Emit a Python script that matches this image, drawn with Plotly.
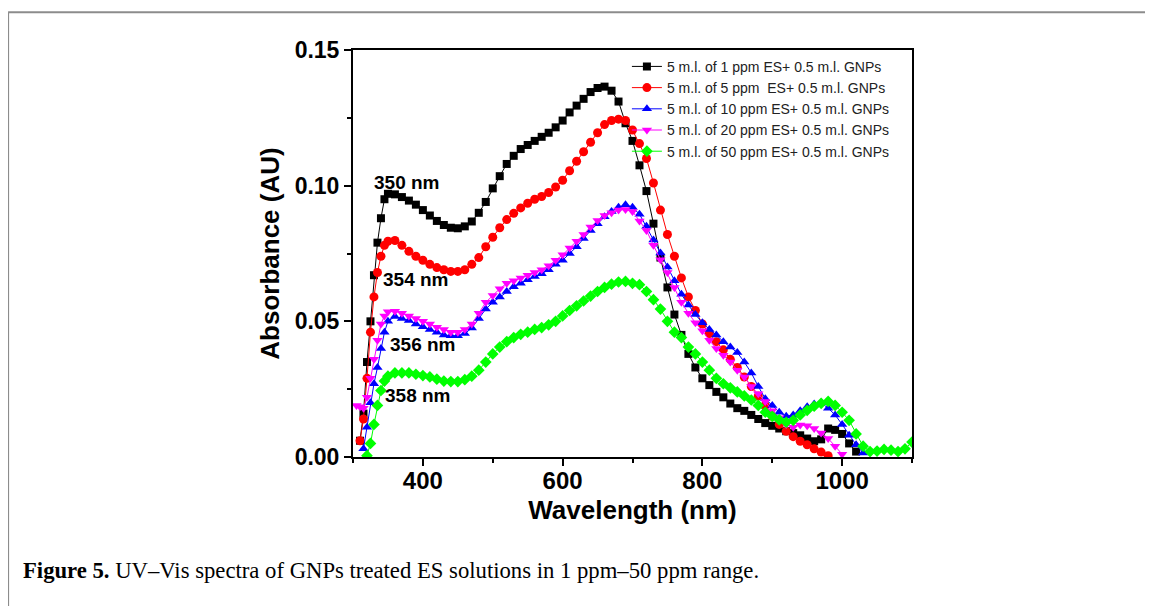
import plotly.graph_objects as go

# wavelength grid (nm): 5 nm steps on the rising edge, 10 nm afterwards
WAVELENGTH = [305, 310, 315, 320, 325, 330, 335, 340, 345, 350,
              360, 370, 380, 390, 400, 410, 420, 430, 440, 450,
              460, 470, 480, 490, 500, 510, 520, 530, 540, 550,
              560, 570, 580, 590, 600, 610, 620, 630, 640, 650,
              660, 670, 680, 690, 700, 710, 720, 730, 740, 750,
              760, 770, 780, 790, 800, 810, 820, 830, 840, 850,
              860, 870, 880, 890, 900, 910, 920, 930, 940, 950,
              960, 970, 980, 990, 1000, 1010, 1020, 1030, 1040, 1050,
              1060, 1070, 1080, 1090, 1100]

ABS_1PPM = [None, 0.006, 0.016, 0.035, 0.050, 0.067, 0.079, 0.088, 0.095, 0.097,
            0.0968, 0.0958, 0.0945, 0.093, 0.091, 0.089, 0.087, 0.0855, 0.0845, 0.0843,
            0.085, 0.0868, 0.090, 0.094, 0.099, 0.1035, 0.108, 0.111, 0.1135, 0.115,
            0.1165, 0.118, 0.1195, 0.1215, 0.124, 0.127, 0.1295, 0.132, 0.1345, 0.136,
            0.1365, 0.135, 0.131, 0.123, 0.1165, 0.1075, 0.098, 0.086, 0.0735, 0.0625,
            0.0525, 0.045, 0.038, 0.033, 0.029, 0.0265, 0.024, 0.022, 0.0197, 0.018,
            0.017, 0.0155, 0.014, 0.0125, 0.0115, 0.0105, 0.0095, 0.0088, 0.008, 0.0068,
            0.0058, 0.0065, 0.0105, 0.010, 0.0085, 0.005, 0.002, None, None, None,
            None, None, None, None, None]

ABS_5PPM = [None, 0.006, 0.014, 0.029, 0.046, 0.059, 0.068, 0.074, 0.078, 0.0795,
            0.0798, 0.078, 0.0758, 0.074, 0.0725, 0.071, 0.0698, 0.069, 0.0684, 0.0684,
            0.069, 0.071, 0.0735, 0.0775, 0.081, 0.0845, 0.0875, 0.0898, 0.0918, 0.0935,
            0.095, 0.096, 0.0975, 0.0995, 0.102, 0.1055, 0.109, 0.1125, 0.116, 0.1195,
            0.1225, 0.124, 0.1245, 0.124, 0.1205, 0.1155, 0.110, 0.101, 0.091, 0.082,
            0.074, 0.066, 0.059, 0.054, 0.049, 0.0455, 0.0425, 0.0395, 0.036, 0.033,
            0.0295, 0.026, 0.0225, 0.019, 0.015, 0.012, 0.0095, 0.0075, 0.0058, 0.0045,
            0.003, 0.0018, 0.0005, None, None, None, None, None, None, None,
            None, None, None, None, None]

ABS_10PPM = [None, None, 0.003, 0.011, 0.020, 0.027, 0.033, 0.040, 0.046, 0.050,
             0.0518, 0.051, 0.0503, 0.049, 0.048, 0.047, 0.046, 0.045, 0.0447, 0.0447,
             0.0455, 0.0475, 0.051, 0.0545, 0.057, 0.059, 0.061, 0.0627, 0.064, 0.0653,
             0.0665, 0.0675, 0.069, 0.071, 0.0725, 0.075, 0.0775, 0.0805, 0.0835, 0.086,
             0.0885, 0.0905, 0.092, 0.093, 0.092, 0.0895, 0.085, 0.080, 0.0752, 0.070,
             0.065, 0.060, 0.056, 0.0525, 0.0495, 0.047, 0.045, 0.0425, 0.0405, 0.0385,
             0.035, 0.031, 0.026, 0.0215, 0.019, 0.0165, 0.015, 0.0155, 0.017, 0.0185,
             0.0195, 0.020, 0.018, 0.0155, 0.012, 0.008, 0.0045, 0.0015, None, None,
             None, None, None, None, None]

ABS_20PPM = [0.019, 0.0185, 0.018, 0.022, 0.029, 0.036, 0.043, 0.049, 0.052, 0.0535,
             0.0537, 0.053, 0.052, 0.051, 0.050, 0.049, 0.0478, 0.047, 0.046, 0.046,
             0.047, 0.049, 0.053, 0.057, 0.0595, 0.062, 0.064, 0.065, 0.066, 0.067,
             0.068, 0.069, 0.0705, 0.0725, 0.0745, 0.077, 0.0795, 0.082, 0.0848, 0.0872,
             0.089, 0.090, 0.091, 0.0912, 0.0905, 0.087, 0.0835, 0.078, 0.0727, 0.068,
             0.0625, 0.057, 0.053, 0.0495, 0.0465, 0.043, 0.040, 0.0375, 0.035, 0.032,
             0.0295, 0.026, 0.0233, 0.0205, 0.017, 0.0145, 0.012, 0.011, 0.0118, 0.0115,
             0.0105, 0.0088, 0.0068, 0.004, 0.001, None, None, None, None, None,
             None, None, None, None, None]

ABS_50PPM = [None, None, None, 0.0005, 0.005, 0.012, 0.019, 0.0245, 0.028, 0.0298,
             0.031, 0.031, 0.031, 0.0305, 0.030, 0.0295, 0.0287, 0.028, 0.0278, 0.0278,
             0.0285, 0.0298, 0.032, 0.035, 0.038, 0.0405, 0.0425, 0.044, 0.0452, 0.046,
             0.047, 0.0477, 0.0487, 0.050, 0.052, 0.054, 0.0557, 0.0575, 0.0593, 0.061,
             0.0625, 0.0637, 0.0645, 0.0647, 0.064, 0.0635, 0.061, 0.058, 0.0545, 0.050,
             0.046, 0.044, 0.0405, 0.038, 0.035, 0.032, 0.029, 0.027, 0.0255, 0.024,
             0.0225, 0.021, 0.019, 0.0165, 0.015, 0.0137, 0.0128, 0.0135, 0.0155, 0.0172,
             0.0187, 0.0198, 0.0205, 0.019, 0.0165, 0.0135, 0.0085, 0.004, 0.002, 0.0022,
             0.0028, 0.0025, 0.002, 0.003, 0.0055]

SERIES_NAMES = ["5 m.l. of 1 ppm ES+ 0.5 m.l. GNPs",
                "5 m.l. of 5 ppm \u00a0ES+ 0.5 m.l. GNPs",
                "5 m.l. of 10 ppm ES+ 0.5 m.l. GNPs",
                "5 m.l. of 20 ppm ES+ 0.5 m.l. GNPs",
                "5 m.l. of 50 ppm ES+ 0.5 m.l. GNPs"]
COLORS = ["#000000", "#ff0000", "#0000ff", "#ff00ff", "#00ff00"]
SYMBOLS = ["square", "circle", "triangle-up", "triangle-down", "diamond"]
SIZES = [8, 9, 9, 9, 9]

PEAK_LABELS = ["350 nm", "354 nm", "356 nm", "358 nm"]
PEAK_LABEL_X = [376, 389, 400, 392]
PEAK_LABEL_Y = [0.101, 0.0653, 0.0415, 0.0227]

CAPTION = "<b>Figure 5.</b> UV\u2013Vis spectra of GNPs treated ES solutions in 1 ppm\u201350 ppm range."

SANS = "Arial, Liberation Sans, sans-serif"

fig = go.Figure()
for name, ys, color, sym, size in zip(SERIES_NAMES,
                                      [ABS_1PPM, ABS_5PPM, ABS_10PPM, ABS_20PPM, ABS_50PPM],
                                      COLORS, SYMBOLS, SIZES):
    fig.add_trace(go.Scatter(
        x=WAVELENGTH, y=ys, name=name, mode="lines+markers",
        line=dict(color=color, width=1),
        marker=dict(symbol=sym, size=size, color=color),
    ))

for txt, x, y in zip(PEAK_LABELS, PEAK_LABEL_X, PEAK_LABEL_Y):
    fig.add_annotation(x=x, y=y, text=txt, showarrow=False,
                       font=dict(family=SANS, size=19, color="black", weight="bold"))

fig.add_annotation(xref="paper", yref="paper", x=-0.594, y=-0.278,
                   xanchor="left", yanchor="middle", text=CAPTION, showarrow=False,
                   font=dict(family="Liberation Serif, serif", size=22.7, color="black"))

# page frame (top and left rules)
fig.add_shape(type="line", xref="paper", yref="paper", x0=-0.617, x1=1.45,
              y0=1.093, y1=1.093, line=dict(color="#8c8c8c", width=2))
fig.add_shape(type="line", xref="paper", yref="paper", x0=-0.617, x1=-0.617,
              y0=1.093, y1=-0.4, line=dict(color="#8c8c8c", width=2))

axis_common = dict(showline=True, linecolor="black", linewidth=2, mirror=True,
                   ticks="outside", ticklen=7, tickwidth=2, tickcolor="black",
                   showgrid=False, zeroline=False)

fig.update_xaxes(range=[300, 1100], tick0=0, dtick=200, ticklabelstandoff=-6,
                 tickfont=dict(family=SANS, size=24, color="black", weight="bold"),
                 minor=dict(ticks="outside", dtick=100, ticklen=4, tickwidth=2, tickcolor="black"),
                 title=dict(text="Wavelength (nm)", standoff=8,
                            font=dict(family=SANS, size=26, color="black", weight="bold")),
                 **axis_common)
fig.update_yaxes(range=[0, 0.15], tick0=0, dtick=0.05, tickformat=".2f",
                 tickfont=dict(family=SANS, size=23, color="black", weight="bold"),
                 minor=dict(ticks="outside", dtick=0.025, ticklen=4, tickwidth=2, tickcolor="black"),
                 title=dict(text="Absorbance (AU)", standoff=8,
                            font=dict(family=SANS, size=26, color="black", weight="bold")),
                 **axis_common)

# the page body adds an 8 px offset, so the figure is shrunk by that much
fig.update_layout(
    width=1145, height=598,
    margin=dict(l=345, r=241, t=42, b=149),
    paper_bgcolor="white", plot_bgcolor="white",
    legend=dict(x=0.49, y=0.998, xanchor="left", yanchor="top",
                bgcolor="rgba(0,0,0,0)", tracegroupgap=0,
                font=dict(family=SANS, size=14, color="#222222")),
)

fig.write_html("out.html")
